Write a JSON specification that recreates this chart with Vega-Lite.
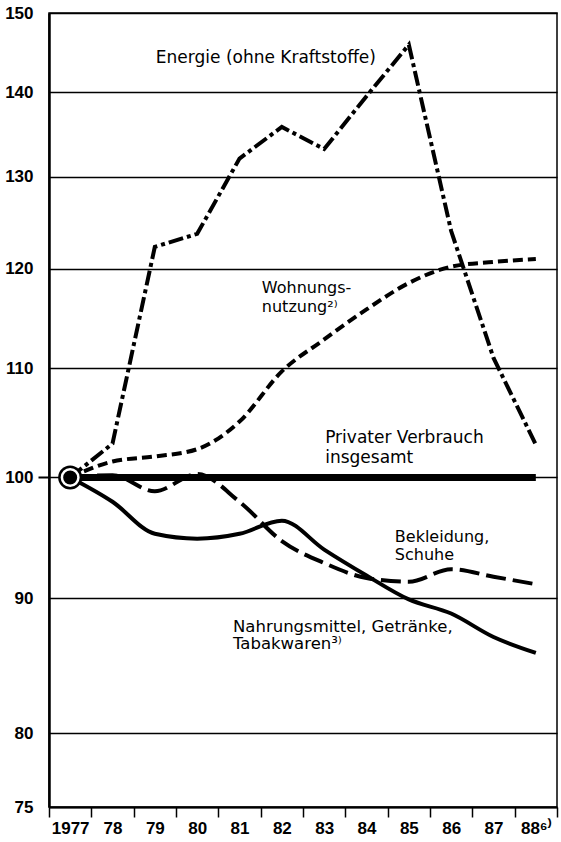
{
  "$schema": "https://vega.github.io/schema/vega-lite/v6.json",
  "width": 508,
  "height": 794,
  "autosize": "none",
  "padding": {"left": 49, "top": 13, "right": 4, "bottom": 35},
  "background": "white",
  "config": {
    "view": {"stroke": "black", "strokeWidth": 1.5},
    "font": "DejaVu Sans"
  },
  "datasets": {
    "reihen": [
      {"Reihe": "Energie", "Jahr": "1977", "Wert": 100},
      {"Reihe": "Energie", "Jahr": "78", "Wert": 103.0},
      {"Reihe": "Energie", "Jahr": "79", "Wert": 122.3},
      {"Reihe": "Energie", "Jahr": "80", "Wert": 123.7},
      {"Reihe": "Energie", "Jahr": "81", "Wert": 132.1},
      {"Reihe": "Energie", "Jahr": "82", "Wert": 135.8},
      {"Reihe": "Energie", "Jahr": "83", "Wert": 133.2},
      {"Reihe": "Energie", "Jahr": "84", "Wert": 139.5},
      {"Reihe": "Energie", "Jahr": "85", "Wert": 145.9},
      {"Reihe": "Energie", "Jahr": "86", "Wert": 124.0},
      {"Reihe": "Energie", "Jahr": "87", "Wert": 111.0},
      {"Reihe": "Energie", "Jahr": "88⁶⁾", "Wert": 102.9},
      {"Reihe": "Wohnung", "Jahr": "1977", "Wert": 100},
      {"Reihe": "Wohnung", "Jahr": "78", "Wert": 101.4},
      {"Reihe": "Wohnung", "Jahr": "79", "Wert": 101.85},
      {"Reihe": "Wohnung", "Jahr": "80", "Wert": 102.5},
      {"Reihe": "Wohnung", "Jahr": "81", "Wert": 105.0},
      {"Reihe": "Wohnung", "Jahr": "82", "Wert": 109.7},
      {"Reihe": "Wohnung", "Jahr": "83", "Wert": 112.8},
      {"Reihe": "Wohnung", "Jahr": "84", "Wert": 115.8},
      {"Reihe": "Wohnung", "Jahr": "85", "Wert": 118.5},
      {"Reihe": "Wohnung", "Jahr": "86", "Wert": 120.2},
      {"Reihe": "Wohnung", "Jahr": "87", "Wert": 120.7},
      {"Reihe": "Wohnung", "Jahr": "88⁶⁾", "Wert": 121.0},
      {"Reihe": "Privat", "Jahr": "1977", "Wert": 100},
      {"Reihe": "Privat", "Jahr": "78", "Wert": 100},
      {"Reihe": "Privat", "Jahr": "79", "Wert": 100},
      {"Reihe": "Privat", "Jahr": "80", "Wert": 100},
      {"Reihe": "Privat", "Jahr": "81", "Wert": 100},
      {"Reihe": "Privat", "Jahr": "82", "Wert": 100},
      {"Reihe": "Privat", "Jahr": "83", "Wert": 100},
      {"Reihe": "Privat", "Jahr": "84", "Wert": 100},
      {"Reihe": "Privat", "Jahr": "85", "Wert": 100},
      {"Reihe": "Privat", "Jahr": "86", "Wert": 100},
      {"Reihe": "Privat", "Jahr": "87", "Wert": 100},
      {"Reihe": "Privat", "Jahr": "88⁶⁾", "Wert": 100},
      {"Reihe": "Bekleidung", "Jahr": "1977", "Wert": 100},
      {"Reihe": "Bekleidung", "Jahr": "78", "Wert": 100.2},
      {"Reihe": "Bekleidung", "Jahr": "79", "Wert": 98.8},
      {"Reihe": "Bekleidung", "Jahr": "80", "Wert": 100.3},
      {"Reihe": "Bekleidung", "Jahr": "81", "Wert": 97.9},
      {"Reihe": "Bekleidung", "Jahr": "82", "Wert": 94.6},
      {"Reihe": "Bekleidung", "Jahr": "83", "Wert": 92.8},
      {"Reihe": "Bekleidung", "Jahr": "84", "Wert": 91.6},
      {"Reihe": "Bekleidung", "Jahr": "85", "Wert": 91.3},
      {"Reihe": "Bekleidung", "Jahr": "86", "Wert": 92.3},
      {"Reihe": "Bekleidung", "Jahr": "87", "Wert": 91.7},
      {"Reihe": "Bekleidung", "Jahr": "88⁶⁾", "Wert": 91.1},
      {"Reihe": "Nahrung", "Jahr": "1977", "Wert": 100},
      {"Reihe": "Nahrung", "Jahr": "78", "Wert": 97.9},
      {"Reihe": "Nahrung", "Jahr": "79", "Wert": 95.2},
      {"Reihe": "Nahrung", "Jahr": "80", "Wert": 94.8},
      {"Reihe": "Nahrung", "Jahr": "81", "Wert": 95.2},
      {"Reihe": "Nahrung", "Jahr": "82", "Wert": 96.3},
      {"Reihe": "Nahrung", "Jahr": "83", "Wert": 93.9},
      {"Reihe": "Nahrung", "Jahr": "84", "Wert": 91.8},
      {"Reihe": "Nahrung", "Jahr": "85", "Wert": 89.9},
      {"Reihe": "Nahrung", "Jahr": "86", "Wert": 88.8},
      {"Reihe": "Nahrung", "Jahr": "87", "Wert": 87.0},
      {"Reihe": "Nahrung", "Jahr": "88⁶⁾", "Wert": 85.8}
    ],
    "beschriftung": [
      {"id": "energie", "Jahr": "79", "Wert": 145.2, "Text": "Energie (ohne Kraftstoffe)"},
      {"id": "wohnung", "Jahr": "82", "Wert": 118.8, "Text": "Wohnungs-\nnutzung²⁾"},
      {"id": "privat", "Jahr": "83", "Wert": 104.2, "Text": "Privater Verbrauch\ninsgesamt"},
      {"id": "bekleidung", "Jahr": "85", "Wert": 95.6, "Text": "Bekleidung,\nSchuhe"},
      {"id": "nahrung", "Jahr": "81", "Wert": 88.4, "Text": "Nahrungsmittel, Getränke,\nTabakwaren³⁾"}
    ]
  },
  "data": {"name": "reihen"},
  "encoding": {
    "x": {
      "field": "Jahr",
      "type": "ordinal",
      "sort": ["1977", "78", "79", "80", "81", "82", "83", "84", "85", "86", "87", "88⁶⁾"],
      "scale": {"type": "band", "paddingInner": 0, "paddingOuter": 0},
      "axis": {
        "title": null,
        "tickBand": "extent",
        "labelAngle": 0,
        "labelFont": "Liberation Sans",
        "labelFontWeight": "bold",
        "labelFontSize": 17,
        "labelColor": "black",
        "labelPadding": 3,
        "tickColor": "black",
        "tickSize": 10,
        "tickWidth": 1.5,
        "domainColor": "black",
        "domainWidth": 2,
        "grid": false
      }
    },
    "y": {
      "field": "Wert",
      "type": "quantitative",
      "scale": {"type": "log", "domain": [75, 150], "nice": false},
      "axis": {
        "title": null,
        "values": [75, 80, 90, 100, 110, 120, 130, 140, 150],
        "format": "d",
        "labelOverlap": false,
        "labelFont": "Liberation Sans",
        "labelFontWeight": "bold",
        "labelFontSize": 17,
        "labelColor": "black",
        "labelPadding": 5,
        "tickSize": 11,
        "tickWidth": 2,
        "tickColor": "black",
        "tickOpacity": {"condition": {"test": "datum.value === 100", "value": 1}, "value": 0},
        "domainColor": "black",
        "domainWidth": 2.5,
        "grid": true,
        "gridColor": "black",
        "gridWidth": 1.3,
        "gridOpacity": 1
      }
    }
  },
  "layer": [
    {
      "transform": [{"filter": "datum.Reihe === 'Energie'"}],
      "mark": {"type": "line", "color": "black", "strokeWidth": 4, "strokeDash": [15, 4, 4, 4], "strokeCap": "butt"},
      "encoding": {}
    },
    {
      "transform": [{"filter": "datum.Reihe === 'Wohnung'"}],
      "mark": {"type": "line", "color": "black", "strokeWidth": 4, "strokeDash": [10, 5], "interpolate": "monotone"},
      "encoding": {}
    },
    {
      "transform": [{"filter": "datum.Reihe === 'Bekleidung'"}],
      "mark": {"type": "line", "color": "black", "strokeWidth": 4, "strokeDash": [20, 7], "interpolate": "monotone"},
      "encoding": {}
    },
    {
      "transform": [{"filter": "datum.Reihe === 'Nahrung'"}],
      "mark": {"type": "line", "color": "black", "strokeWidth": 4, "interpolate": "monotone"},
      "encoding": {}
    },
    {
      "transform": [{"filter": "datum.Reihe === 'Privat'"}],
      "mark": {"type": "line", "color": "black", "strokeWidth": 7},
      "encoding": {}
    },
    {
      "transform": [{"filter": "datum.Reihe === 'Privat' && datum.Jahr === '1977'"}],
      "mark": {"type": "circle", "fill": "black", "size": 576, "opacity": 1}
    },
    {
      "transform": [{"filter": "datum.Reihe === 'Privat' && datum.Jahr === '1977'"}],
      "mark": {"type": "circle", "fill": "black", "stroke": "white", "strokeWidth": 2.5, "size": 272, "opacity": 1}
    },
    {
      "data": {"name": "beschriftung"},
      "transform": [{"filter": "datum.id === 'energie'"}],
      "mark": {"type": "text", "align": "left", "baseline": "top", "font": "DejaVu Sans", "fontSize": 17, "color": "black", "dx": 1, "lineBreak": "\n"},
      "encoding": {"text": {"field": "Text"}}
    },
    {
      "data": {"name": "beschriftung"},
      "transform": [{"filter": "datum.id === 'wohnung'"}],
      "mark": {"type": "text", "align": "left", "baseline": "top", "font": "DejaVu Sans", "fontSize": 16, "lineHeight": 19, "color": "black", "dx": -20, "lineBreak": "\n"},
      "encoding": {"text": {"field": "Text"}}
    },
    {
      "data": {"name": "beschriftung"},
      "transform": [{"filter": "datum.id === 'privat'"}],
      "mark": {"type": "text", "align": "left", "baseline": "top", "font": "DejaVu Sans", "fontSize": 17, "lineHeight": 20, "color": "black", "dx": 1, "lineBreak": "\n"},
      "encoding": {"text": {"field": "Text"}}
    },
    {
      "data": {"name": "beschriftung"},
      "transform": [{"filter": "datum.id === 'bekleidung'"}],
      "mark": {"type": "text", "align": "left", "baseline": "top", "font": "DejaVu Sans", "fontSize": 16, "lineHeight": 17.5, "color": "black", "dx": -14, "lineBreak": "\n"},
      "encoding": {"text": {"field": "Text"}}
    },
    {
      "data": {"name": "beschriftung"},
      "transform": [{"filter": "datum.id === 'nahrung'"}],
      "mark": {"type": "text", "align": "left", "baseline": "top", "font": "DejaVu Sans", "fontSize": 16.5, "lineHeight": 17.5, "color": "black", "dx": -6.5, "lineBreak": "\n"},
      "encoding": {"text": {"field": "Text"}}
    }
  ]
}
